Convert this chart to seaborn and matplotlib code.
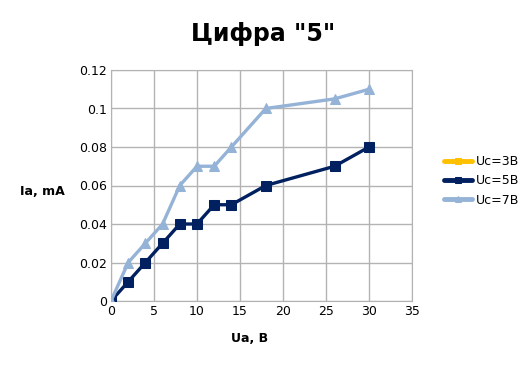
import pandas as pd
import seaborn as sns
import matplotlib.pyplot as plt

# --- data ---
ua_3 = [0]
ia_3 = [0.0]

ua_5 = [0, 2, 4, 6, 8, 10, 12, 14, 18, 26, 30]
ia_5 = [0.0, 0.01, 0.02, 0.03, 0.04, 0.04, 0.05, 0.05, 0.06, 0.07, 0.08]

ua_7 = [0, 2, 4, 6, 8, 10, 12, 14, 18, 26, 30]
ia_7 = [0.0, 0.02, 0.03, 0.04, 0.06, 0.07, 0.07, 0.08, 0.1, 0.105, 0.11]

series_names = ['Uc=3B', 'Uc=5B', 'Uc=7B']
colors = ['#FFC000', '#002060', '#95B3D7']
markers = ['s', 's', '^']

df = pd.concat([
    pd.DataFrame({'Ua': ua_3, 'Ia': ia_3, 'series': series_names[0]}),
    pd.DataFrame({'Ua': ua_5, 'Ia': ia_5, 'series': series_names[1]}),
    pd.DataFrame({'Ua': ua_7, 'Ia': ia_7, 'series': series_names[2]}),
])

sns.set_style('white')
plt.rcParams['font.family'] = ['DejaVu Sans']
plt.rcParams['text.color'] = 'black'
plt.rcParams['xtick.color'] = 'black'
plt.rcParams['ytick.color'] = 'black'

fig = plt.figure(figsize=(5.27, 3.67), dpi=100)
ax = fig.add_axes([111 / 527, 1 - 301 / 367, 301 / 527, 231 / 367])

for name, col, mk in zip(series_names, colors, markers):
    sub = df[df['series'] == name]
    sns.lineplot(data=sub, x='Ua', y='Ia', ax=ax, color=col, marker=mk,
                 markersize=7.5, markeredgecolor=col, linewidth=2.4,
                 label=name, sort=False, zorder=3)

ax.set_xlim(0, 35)
ax.set_ylim(0, 0.12)
ax.set_xticks(range(0, 36, 5))
ax.set_yticks([0, 0.02, 0.04, 0.06, 0.08, 0.1, 0.12])
ax.set_yticklabels(['0', '0.02', '0.04', '0.06', '0.08', '0.1', '0.12'])
ax.grid(True, color='#b3b3b3', linewidth=1)
for s in ax.spines.values():
    s.set_color('#b3b3b3')
ax.tick_params(axis='both', labelsize=9, length=0, pad=3, labelcolor='black')

ax.set_xlabel('')
ax.set_ylabel('')
fig.text(250 / 527, 1 - 339 / 367, 'Ua, B', fontsize=9, fontweight='bold',
         ha='center', va='center', color='black')
fig.text(42 / 527, 1 - 192 / 367, 'Ia, mA', fontsize=9, fontweight='bold',
         ha='center', va='center', color='black')
fig.text(263 / 527, 1 - 34 / 367, 'Цифра "5"', fontsize=17, fontweight='bold',
         ha='center', va='center', color='black')

leg = ax.legend(loc='center left', bbox_to_anchor=(1.07, 0.52), frameon=False,
                fontsize=9, handlelength=2.2, handletextpad=0.3,
                labelspacing=0.5, markerscale=0.6)
for line in leg.get_lines():
    line.set_linewidth(3.5)

fig.savefig('out.png', dpi=100)
